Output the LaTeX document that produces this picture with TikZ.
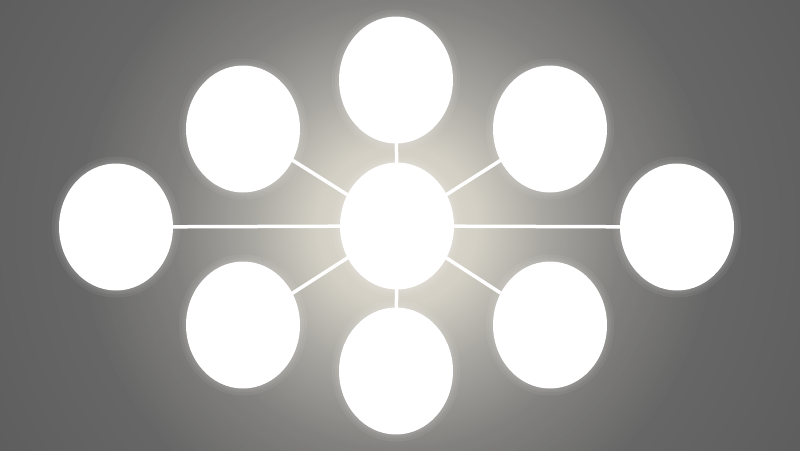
\documentclass[tikz,border=0pt]{standalone}
\usetikzlibrary{shapes.geometric,fadings}
\definecolor{bgin}{HTML}{7A7A7A}
\definecolor{bgout}{HTML}{5A5A5A}
\definecolor{glowcol}{HTML}{E4E0D4}
\pgfdeclareradialshading{glowmask}{\pgfpoint{0bp}{0bp}}{color(0bp)=(white); color(5bp)=(white!85!black); color(9bp)=(white!50!black); color(14bp)=(white!18!black); color(20bp)=(black); color(50bp)=(black)}
\pgfdeclarefading{glowfade}{\pgfuseshading{glowmask}}
\tikzset{
  bubble/.style={ellipse, fill=white, minimum width=114pt, minimum height=127pt, inner sep=0pt},
  halo/.style={fill=white, opacity=0.06},
  spoke/.style={draw=white, line width=3.5pt},
}
\begin{document}
\begin{tikzpicture}[x=1pt,y=-1pt]
\useasboundingbox (0,0) rectangle (800,450);
\begin{scope}
\clip (-2,-2) rectangle (802,452);
\shade[inner color=bgin, outer color=bgout] (397,226) circle (520);
\fill[glowcol, path fading=glowfade] (397,226) circle (400);
\end{scope}
% halos
\foreach \x/\y in {397/226, 396/80, 396/371, 116/227, 677/227, 243/129, 550/129, 243/325, 550/325}{
  \foreach \r in {2,4,7}{
    \fill[halo] (\x,\y) ellipse ({57+\r} and {63.5+\r});
  }
}
\coordinate (pc) at (397,226);
\coordinate (pt) at (396,80);
\coordinate (pb) at (396,371);
\coordinate (pl) at (116,227);
\coordinate (pr) at (677,227);
\coordinate (pul) at (243,129);
\coordinate (pur) at (550,129);
\coordinate (pll) at (243,325);
\coordinate (plr) at (550,325);
\foreach \n in {pt,pb,pl,pr,pul,pur,pll,plr}{
  \draw[spoke] (pc) -- (\n);
}
\node[bubble] (c) at (pc) {};
\node[bubble] (t) at (pt) {};
\node[bubble] (b) at (pb) {};
\node[bubble] (l) at (pl) {};
\node[bubble] (r) at (pr) {};
\node[bubble] (ul) at (pul) {};
\node[bubble] (ur) at (pur) {};
\node[bubble] (ll) at (pll) {};
\node[bubble] (lr) at (plr) {};
\end{tikzpicture}
\end{document}
